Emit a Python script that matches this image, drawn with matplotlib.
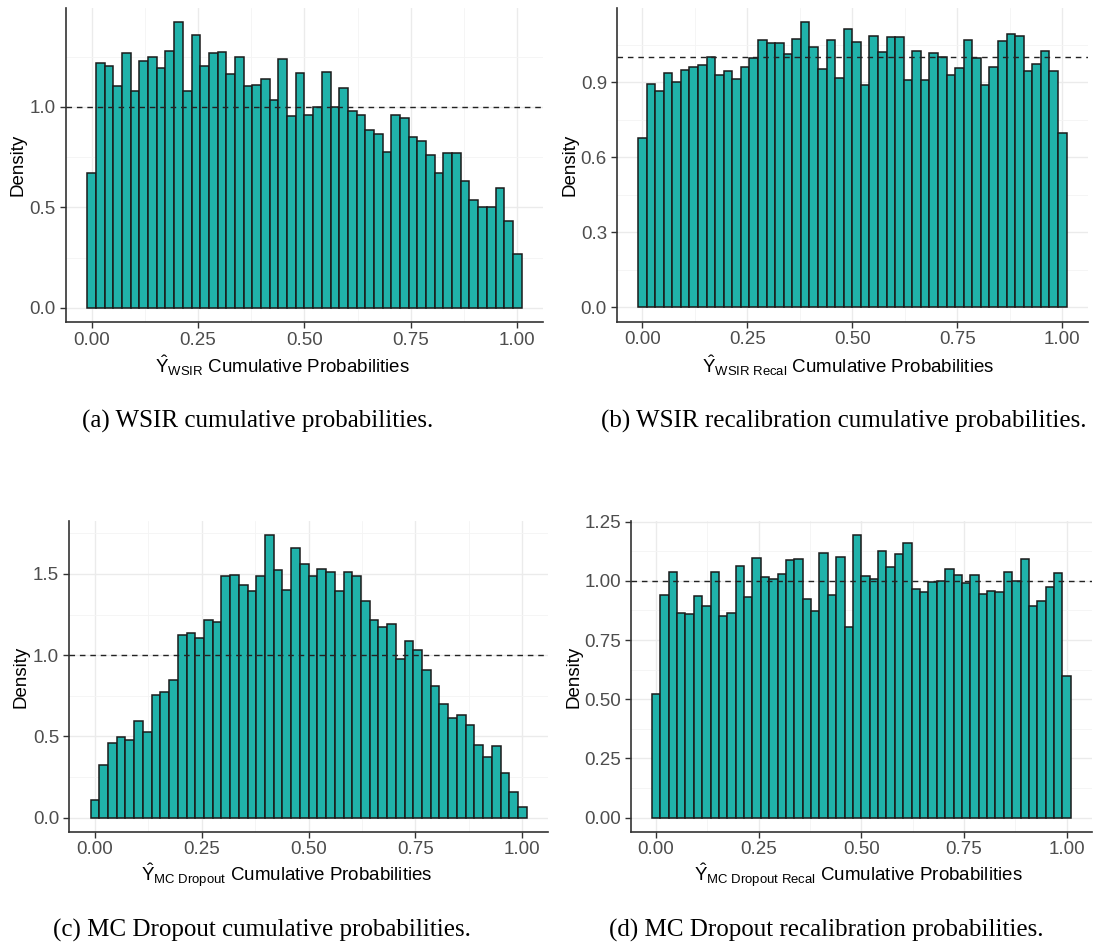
import numpy as np
import matplotlib
matplotlib.use("Agg")
import matplotlib.pyplot as plt
from matplotlib.ticker import FormatStrFormatter, MultipleLocator

plt.rcParams['font.family'] = ['Liberation Sans', 'DejaVu Sans']
plt.rcParams['mathtext.fontset'] = 'custom'
plt.rcParams['mathtext.rm'] = 'Liberation Sans'
plt.rcParams['mathtext.it'] = 'Liberation Sans:italic'

# histogram densities, 50 bins over [0, 1]
wsir = [0.669, 1.217, 1.205, 1.104, 1.270, 1.078, 1.230, 1.250, 1.192, 1.280,
        1.422, 1.078, 1.359, 1.205, 1.270, 1.274, 1.162, 1.250, 1.104, 1.108,
        1.137, 1.035, 1.240, 0.957, 1.169, 0.960, 1.000, 1.172, 1.000, 1.093,
        0.980, 0.960, 0.886, 0.866, 0.778, 0.960, 0.947, 0.848, 0.831, 0.763,
        0.669, 0.773, 0.773, 0.631, 0.536, 0.501, 0.501, 0.596, 0.434, 0.267]

wsir_recal = [0.679, 0.893, 0.865, 0.939, 0.900, 0.948, 0.963, 0.968, 1.001, 0.928,
              0.944, 0.913, 0.963, 0.997, 1.071, 1.056, 1.056, 1.012, 1.075, 1.140,
              1.040, 0.953, 1.071, 0.919, 1.115, 1.061, 0.888, 1.085, 1.021, 1.080,
              1.080, 0.909, 1.027, 0.909, 1.017, 1.001, 0.928, 0.957, 1.071, 0.997,
              0.888, 0.963, 1.067, 1.092, 1.085, 0.944, 0.972, 1.027, 0.944, 0.697]

mc_dropout = [0.109, 0.322, 0.460, 0.499, 0.480, 0.593, 0.526, 0.752, 0.772, 0.850,
              1.123, 1.136, 1.105, 1.218, 1.201, 1.489, 1.493, 1.433, 1.396, 1.489,
              1.737, 1.522, 1.400, 1.661, 1.559, 1.489, 1.528, 1.509, 1.392, 1.509,
              1.485, 1.331, 1.214, 1.172, 1.193, 0.979, 1.088, 1.033, 0.906, 0.807,
              0.700, 0.614, 0.634, 0.569, 0.446, 0.372, 0.441, 0.273, 0.158, 0.066]

mc_dropout_recal = [0.524, 0.941, 1.038, 0.866, 0.861, 0.935, 0.896, 1.038, 0.852, 0.866,
                    1.063, 0.930, 1.097, 1.018, 1.010, 1.030, 1.089, 1.093, 0.925, 0.872,
                    1.117, 0.941, 1.103, 0.807, 1.193, 1.020, 1.006, 1.127, 1.059, 1.113,
                    1.161, 0.965, 0.955, 0.997, 1.000, 1.052, 1.024, 0.990, 1.024, 0.945,
                    0.956, 0.951, 1.038, 1.000, 1.093, 0.892, 0.917, 0.975, 1.034, 0.597]

subs = ['WSIR', 'WSIR\\ Recal', 'MC\\ Dropout', 'MC\\ Dropout\\ Recal']
captions = ['(a) WSIR cumulative probabilities.',
            '(b) WSIR recalibration cumulative probabilities.',
            '(c) MC Dropout cumulative probabilities.',
            '(d) MC Dropout recalibration probabilities.']
y_steps = [0.5, 0.3, 0.5, 0.25]
y_fmt = ['%.1f', '%.1f', '%.1f', '%.2f']

W, H = 1096, 951
# panel boxes in pixels: left, right, top, bottom
boxes = [(65.6, 543.3, 8, 322), (616.6, 1088, 8, 321.7),
         (68.8, 548.5, 521.3, 831.7), (630.9, 1091.8, 521.1, 831.7)]
xlab_x = [283, 848, 287, 858]
xlab_y = [366, 366, 876, 876]
ylab_x = [18, 570, 21, 574]
cap_xy = [(257.5, 421), (844, 421), (261.7, 930), (826, 930)]

fig = plt.figure(figsize=(W / 100, H / 100), dpi=100)

n_bins = 50
bw = 1 / (n_bins - 1)
centers = np.linspace(0, 1, n_bins)

for i, dens in enumerate([wsir, wsir_recal, mc_dropout, mc_dropout_recal]):
    l, r, t, b = boxes[i]
    ax = fig.add_axes([l / W, 1 - b / H, (r - l) / W, (b - t) / H])
    ax.bar(centers, dens, width=bw, color='#20B2AA', edgecolor='#1a1a1a',
           linewidth=1.1, zorder=2)
    ax.axhline(1.0, color='#222222', linestyle=(0, (4, 3.5)), linewidth=1.0, zorder=3)

    ymax = max(dens)
    ax.set_xlim(-0.5 * bw - 0.05 * (1 + bw), 1 + 0.5 * bw + 0.05 * (1 + bw))
    ax.set_ylim(-0.05 * ymax, 1.05 * ymax)

    ax.xaxis.set_major_locator(MultipleLocator(0.25))
    ax.xaxis.set_minor_locator(MultipleLocator(0.125))
    ax.yaxis.set_major_locator(MultipleLocator(y_steps[i]))
    ax.yaxis.set_minor_locator(MultipleLocator(y_steps[i] / 2))
    ax.xaxis.set_major_formatter(FormatStrFormatter('%.2f'))
    ax.yaxis.set_major_formatter(FormatStrFormatter(y_fmt[i]))

    ax.grid(which='major', color='#EBEBEB', linewidth=1.0, zorder=0)
    ax.grid(which='minor', color='#F4F4F4', linewidth=0.6, zorder=0)
    ax.set_axisbelow(True)
    for s in ['top', 'right']:
        ax.spines[s].set_visible(False)
    for s in ['left', 'bottom']:
        ax.spines[s].set_color('#333333')
        ax.spines[s].set_linewidth(1.2)
    ax.tick_params(which='major', length=4, width=1, color='#333333',
                   labelcolor='#4D4D4D', labelsize=13.5, pad=3)
    ax.tick_params(which='minor', length=0)

    ax.set_xlabel(r'$\hat{\mathrm{Y}}_{\mathrm{' + subs[i] + r'}}$ Cumulative Probabilities',
                  fontsize=13.5, color='black')
    ax.xaxis.set_label_coords((xlab_x[i] - l) / (r - l), (b - xlab_y[i]) / (b - t))
    ax.xaxis.label.set_va('center')
    ax.set_ylabel('Density', fontsize=13.5, color='black')
    ax.yaxis.set_label_coords((ylab_x[i] - l) / (r - l), 0.5)
    ax.yaxis.label.set_va('center')

    cx, cy = cap_xy[i]
    fig.text(cx / W, 1 - cy / H, captions[i], ha='center', va='center',
             fontsize=18, family='Liberation Serif')

fig.savefig('out.png', dpi=100)
